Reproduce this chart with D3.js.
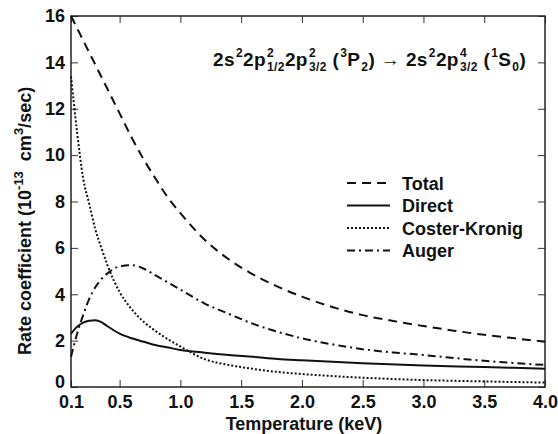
<!DOCTYPE html>
<html>
<head>
<meta charset="utf-8">
<script src="https://cdn.jsdelivr.net/npm/d3@7"></script>
<style>
  body { margin: 0; background: #fff; }
  svg text { font-family: "Liberation Sans", Arial, Helvetica, sans-serif; font-weight: bold; fill: #111; white-space: pre; }
</style>
</head>
<body>
<div id="chart"></div>
<script>
var width = 558, height = 434;
var margin = {top: 16, right: 13, bottom: 47, left: 71};

// temperatures (keV) and rates (1e-13 cm3/s)
var tTotal  = [0.1, 0.2, 0.3, 0.4, 0.5, 0.6, 0.7, 0.8, 0.9, 1.0, 1.2, 1.4, 1.6, 1.8, 2.0, 2.25, 2.5, 2.75, 3.0, 3.25, 3.5, 3.75, 4.0];
var total   = [16.0, 14.95, 13.9, 12.85, 11.8, 10.75, 9.8, 8.95, 8.15, 7.5, 6.35, 5.5, 4.85, 4.33, 3.9, 3.45, 3.1, 2.85, 2.63, 2.43, 2.25, 2.1, 1.95];

var tDirect = [0.1, 0.15, 0.2, 0.25, 0.3, 0.35, 0.4, 0.5, 0.6, 0.7, 0.8, 0.9, 1.0, 1.2, 1.4, 1.6, 1.8, 2.0, 2.5, 3.0, 3.5, 4.0];
var direct  = [2.3, 2.6, 2.78, 2.86, 2.88, 2.8, 2.62, 2.3, 2.1, 1.95, 1.8, 1.7, 1.6, 1.48, 1.38, 1.3, 1.21, 1.15, 1.02, 0.93, 0.86, 0.79];

var tCK     = [0.1, 0.15, 0.2, 0.25, 0.3, 0.35, 0.4, 0.5, 0.6, 0.7, 0.8, 0.9, 1.0, 1.2, 1.4, 1.6, 1.8, 2.0, 2.5, 3.0, 3.5, 4.0];
var coster  = [13.4, 11.0, 9.0, 7.9, 6.8, 6.0, 5.25, 4.1, 3.35, 2.8, 2.4, 2.05, 1.75, 1.2, 0.95, 0.78, 0.65, 0.56, 0.4, 0.3, 0.24, 0.19];

var tAuger  = [0.1, 0.15, 0.2, 0.25, 0.3, 0.35, 0.4, 0.5, 0.6, 0.7, 0.8, 0.9, 1.0, 1.2, 1.4, 1.6, 1.8, 2.0, 2.34, 2.5, 2.75, 3.0, 3.33, 3.5, 4.0];
var auger   = [1.3, 2.3, 3.1, 3.8, 4.3, 4.65, 4.9, 5.2, 5.25, 5.1, 4.8, 4.5, 4.2, 3.6, 3.15, 2.72, 2.38, 2.1, 1.76, 1.63, 1.49, 1.38, 1.21, 1.13, 0.95];

var xTicks = [0.1, 0.5, 1.0, 1.5, 2.0, 2.5, 3.0, 3.5, 4.0];
var yTicks = [0, 2, 4, 6, 8, 10, 12, 14, 16];

var series = [
  {name: "Total", t: tTotal, v: total, dash: "9,6"},
  {name: "Direct", t: tDirect, v: direct, dash: null},
  {name: "Coster-Kronig", t: tCK, v: coster, dash: "2,2"},
  {name: "Auger", t: tAuger, v: auger, dash: "8,4,2,4"}
];

var svg = d3.select("#chart").append("svg")
  .attr("width", width)
  .attr("height", height);

var x = d3.scaleLinear().domain([0.1, 4.0]).range([margin.left, width - margin.right]);
var y = d3.scaleLinear().domain([0, 16]).range([height - margin.bottom, margin.top]);

// axes with inward ticks
svg.append("g")
  .attr("transform", "translate(0," + (height - margin.bottom) + ")")
  .call(d3.axisBottom(x).tickValues(xTicks).tickFormat(d3.format(".1f")).tickSize(-7).tickPadding(8));
svg.append("g")
  .attr("transform", "translate(0," + margin.top + ")")
  .call(d3.axisTop(x).tickValues(xTicks).tickFormat("").tickSize(-7));
var yAxis = svg.append("g")
  .attr("transform", "translate(" + margin.left + ",0)")
  .call(d3.axisLeft(y).tickValues(yTicks).tickSize(-7).tickPadding(6));
svg.append("g")
  .attr("transform", "translate(" + (width - margin.right) + ",0)")
  .call(d3.axisRight(y).tickValues(yTicks).tickFormat("").tickSize(-7));

svg.selectAll(".domain").remove();
svg.selectAll(".tick line").attr("stroke", "#333").attr("stroke-width", 1);
svg.selectAll(".tick text").style("font-size", "18px").attr("fill", "#111");
// nudge the "0" so it clears the "0.1" below it
yAxis.selectAll(".tick text").filter(function(d) { return d === 0; }).attr("dy", "0.05em");

svg.append("rect")
  .attr("x", margin.left).attr("y", margin.top)
  .attr("width", width - margin.left - margin.right)
  .attr("height", height - margin.top - margin.bottom)
  .attr("fill", "none").attr("stroke", "#222").attr("stroke-width", 1.5);

var line = d3.line()
  .x(function(d) { return x(d[0]); })
  .y(function(d) { return y(d[1]); })
  .curve(d3.curveMonotoneX);

series.forEach(function(s) {
  var pts = s.t.map(function(t, i) { return [t, s.v[i]]; });
  svg.append("path")
    .datum(pts)
    .attr("d", line)
    .attr("fill", "none")
    .attr("stroke", "#111")
    .attr("stroke-width", 2)
    .attr("stroke-dasharray", s.dash);
});

// legend
var leg = svg.append("g").attr("transform", "translate(347,183)");
series.forEach(function(s, i) {
  var gy = i * 22.5;
  leg.append("line")
    .attr("x1", 0).attr("x2", 43).attr("y1", gy).attr("y2", gy)
    .attr("stroke", "#111").attr("stroke-width", 2)
    .attr("stroke-dasharray", s.dash);
  leg.append("text")
    .attr("x", 55).attr("y", gy + 6.5)
    .style("font-size", "18px")
    .text(s.name);
});

// axis titles
svg.append("text")
  .attr("x", 304).attr("y", 430)
  .attr("text-anchor", "middle")
  .style("font-size", "18px")
  .text("Temperature (keV)");

var yl = svg.append("text")
  .attr("transform", "translate(31,355) rotate(-90)")
  .style("font-size", "18px");
yl.append("tspan").text("Rate coefficient (10");
yl.append("tspan").attr("dy", -8).style("font-size", "13px").text("-13");
yl.append("tspan").attr("dy", 8).text("  cm");
yl.append("tspan").attr("dy", -8).style("font-size", "13px").text("3");
yl.append("tspan").attr("dy", 8).text("/sec)");

// transition label, pieced together with stacked super/subscripts
var pieces = [
  ["n", "2s"], ["sup", "2"], ["n", "2p"], ["st", "2", "1/2"], ["n", "2p"], ["st", "2", "3/2"],
  ["n", " ("], ["sup", "3"], ["n", "P"], ["sub", "2"], ["n", ") \u2192 2s"], ["sup", "2"],
  ["n", "2p"], ["st", "4", "3/2"], ["n", " ("], ["sup", "1"], ["n", "S"], ["sub", "0"], ["n", ")"]
];
var tg = svg.append("g");
var cx = 213, base = 66, big = 19, small = 12;
function put(str, px, py, size) {
  var t = tg.append("text").attr("x", px).attr("y", py)
    .style("font-size", size + "px").style("letter-spacing", "0.4px").text(str);
  return t.node().getComputedTextLength();
}
pieces.forEach(function(p) {
  if (p[0] === "n") cx += put(p[1], cx, base, big);
  else if (p[0] === "sup") cx += put(p[1], cx + 1, base - 9, small) + 1;
  else if (p[0] === "sub") cx += put(p[1], cx + 1, base + 5, small) + 1;
  else {
    var w1 = put(p[1], cx + 1, base - 9, small);
    var w2 = put(p[2], cx + 1, base + 5, small);
    cx += Math.max(w1, w2) + 1;
  }
});
</script>
</body>
</html>
